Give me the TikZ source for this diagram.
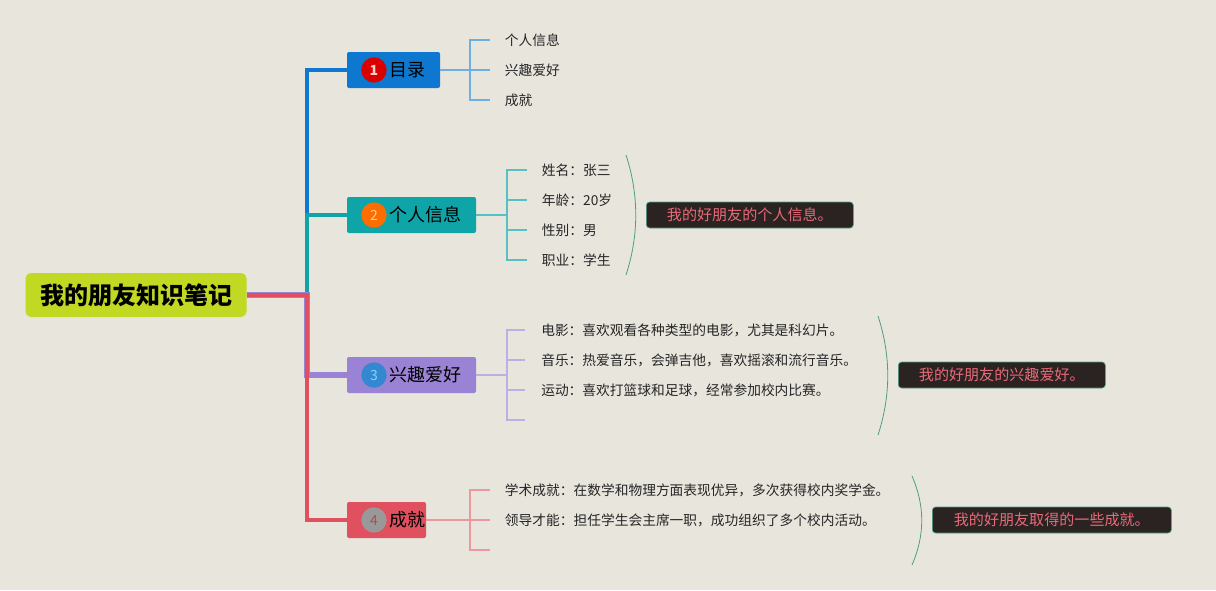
\documentclass[tikz,border=0pt]{standalone}
\usepackage{fontspec}
\setmainfont{Noto Sans CJK SC}
\usetikzlibrary{positioning}

\definecolor{paper}{HTML}{E8E5DD}
\definecolor{rootc}{HTML}{C2D923}
\definecolor{bluec}{HTML}{0E78D0}
\definecolor{tealc}{HTML}{0FA5A8}
\definecolor{purpc}{HTML}{9A82D4}
\definecolor{redc}{HTML}{E0505F}
\definecolor{notebg}{HTML}{2B2222}
\definecolor{notetx}{HTML}{E86B78}
\definecolor{arcc}{HTML}{4E9E86}

\begin{document}
\begin{tikzpicture}[x=0.75pt, y=-0.75pt,
  every node/.style={inner sep=0pt},
  topic/.style={rounded corners=1.5pt, minimum height=27pt},
  label/.style={anchor=west, font=\fontsize{13.5}{14}\selectfont},
  num/.style={circle, minimum size=19pt, font=\fontsize{10.5}{10}\selectfont},
  leaf/.style={anchor=west, inner xsep=11pt, minimum height=12pt,
    text=black!85, font=\fontsize{10.3}{12}\selectfont},
  note/.style={draw=arcc, line width=0.5pt, fill=notebg, rounded corners=2.5pt,
    minimum height=19.5pt, text=notetx, inner xsep=11pt, anchor=west,
    font=\fontsize{11.3}{12}\selectfont},
  branch/.style={line width=3pt},
  twig/.style={line width=1.1pt},
  brace/.style={draw=arcc, line width=0.6pt}
  ]

  \fill[paper] (0,0) rectangle (1216,590);

  % root and the four topics
  \node[fill=rootc, rounded corners=4pt, minimum width=165.75pt, minimum height=33pt,
    font=\fontsize{18}{20}\selectfont\bfseries] (root) at (136,295) {我的朋友知识笔记};

  \node[topic, fill=bluec, minimum width=69.75pt] (t1) at (393.5,70) {};
  \node[topic, fill=tealc, minimum width=96.75pt] (t2) at (411.5,215) {};
  \node[topic, fill=purpc, minimum width=96.75pt] (t3) at (411.5,375) {};
  \node[topic, fill=redc, minimum width=59.25pt] (t4) at (386.5,520) {};

  \node[num, fill=red!85!black, text=white!80!red] (n1) at (374,70) {\bfseries 1};
  \node[num, fill=orange!85!red, text=orange!40] (n2) at (374,215) {2};
  \node[num, fill=cyan!60!blue!85, text=cyan!50] (n3) at (374,375) {3};
  \node[num, fill=gray!80, text=red!40!gray] (n4) at (374,520) {4};

  \node[label] (l1) at (389,70) {目录};
  \node[label] (l2) at (389,215) {个人信息};
  \node[label] (l3) at (389,375) {兴趣爱好};
  \node[label] (l4) at (389,520) {成就};

  \coordinate (trunk) at (307,295);
  \draw[branch, bluec] (root.east) -- (trunk) |- (t1);
  \draw[branch, tealc] (root.east) -- (trunk) |- (t2);
  \draw[branch, purpc, line width=4pt] (root.east) -- (trunk) |- (t3);
  \draw[branch, redc] (root.east) -- (trunk) |- (t4);

  % leaves
  \coordinate (j1) at (470,70);
  \coordinate (j2) at (507,215);
  \coordinate (j3) at (507,375);
  \coordinate (j4) at (470,520);

  \foreach \y/\t [count=\i] in {40/个人信息, 70/兴趣爱好, 100/成就}
    \node[leaf] (a\i) at (490,\y) {\t};
  \foreach \y/\t [count=\i] in {170/姓名：张三, 200/年龄：20岁, 230/性别：男, 260/职业：学生}
    \node[leaf] (b\i) at (527,\y) {\t};
  \foreach \y/\t [count=\i] in {330/电影：喜欢观看各种类型的电影，尤其是科幻片。,
      360/音乐：热爱音乐，会弹吉他，喜欢摇滚和流行音乐。,
      390/运动：喜欢打篮球和足球，经常参加校内比赛。, 420/{}}
    \node[leaf, inner xsep=12pt] (c\i) at (525,\y) {\t};
  \foreach \y/\t [count=\i] in {490/学术成就：在数学和物理方面表现优异，多次获得校内奖学金。,
      520/领导才能：担任学生会主席一职，成功组织了多个校内活动。, 550/{}}
    \node[leaf] (d\i) at (490,\y) {\t};

  \draw[twig, bluec!60] (t1) -- (j1);
  \foreach \i in {1,2,3} \draw[twig, bluec!60] (j1) |- (a\i.west);
  \draw[twig, tealc!70] (t2) -- (j2);
  \foreach \i in {1,...,4} \draw[twig, tealc!70] (j2) |- (b\i.west);
  \draw[twig, purpc!65] (t3) -- (j3);
  \foreach \i in {1,...,4} \draw[twig, purpc!65] (j3) |- (c\i.west);
  \draw[twig, redc!60] (t4) -- (j4);
  \foreach \i in {1,2,3} \draw[twig, redc!60] (j4) |- (d\i.west);

  % summaries
  \coordinate (s2a) at (626,155); \coordinate (s2b) at (626,275);
  \coordinate (s3a) at (878,316); \coordinate (s3b) at (878,435);
  \coordinate (s4a) at (912,476); \coordinate (s4b) at (912,565);
  \draw[brace] (s2a) .. controls (639,195) and (639,235) .. (s2b);
  \draw[brace] (s3a) .. controls (891,356) and (891,395) .. (s3b);
  \draw[brace] (s4a) .. controls (925,506) and (925,535) .. (s4b);

  \node[note, minimum width=155.25pt] (m2) at (646,215) {我的好朋友的个人信息。};
  \node[note, minimum width=155.25pt] (m3) at (898,375) {我的好朋友的兴趣爱好。};
  \node[note, minimum width=179.25pt] (m4) at (932,520) {我的好朋友取得的一些成就。};

\end{tikzpicture}
\end{document}
